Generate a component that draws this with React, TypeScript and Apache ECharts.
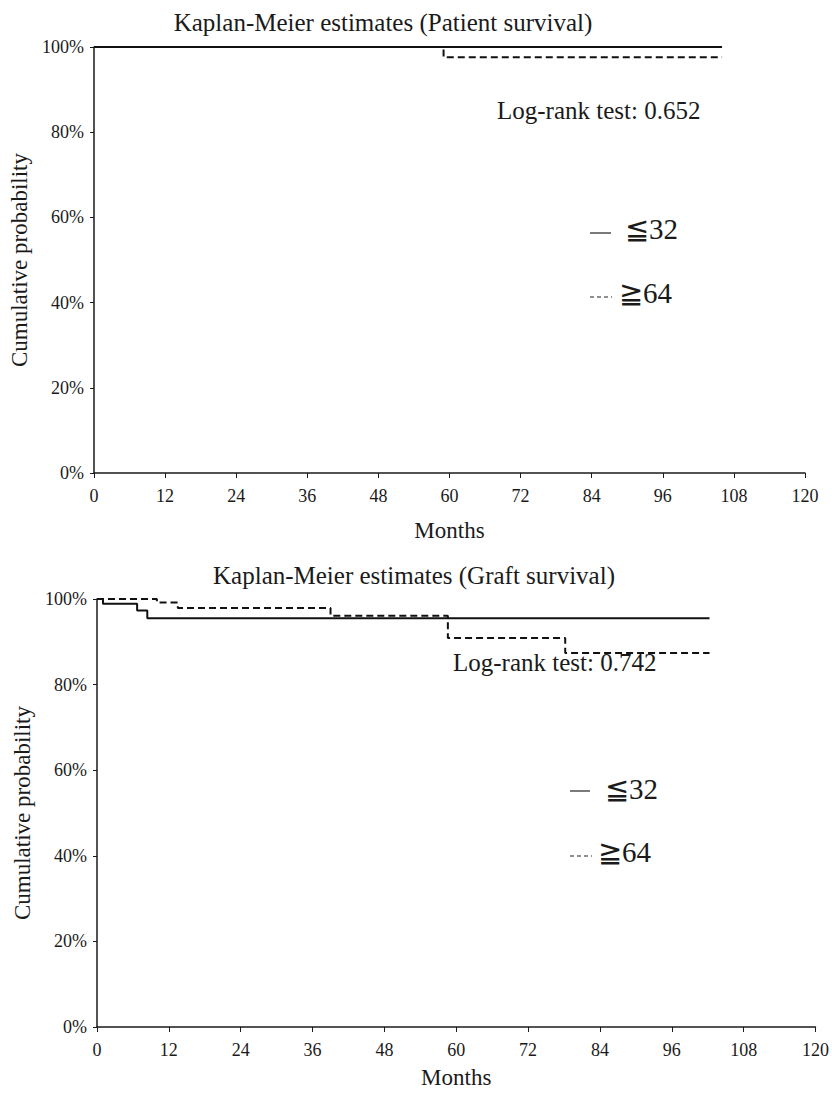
import React, { useEffect, useRef } from "react";
import * as echarts from "echarts";

const xTicks = [0, 12, 24, 36, 48, 60, 72, 84, 96, 108, 120];
const yTicks = [0, 20, 40, 60, 80, 100];
const groupNames = ["≦32", "≧64"];

// Patient survival (months, % surviving)
const patientLow: [number, number][] = [[0, 100], [106, 100]];
const patientHigh: [number, number][] = [[0, 100], [59, 97.6], [106, 97.6]];

// Graft survival
const graftLow: [number, number][] = [[0, 100], [1, 98.9], [6.7, 97.3], [8.4, 95.5], [102.3, 95.5]];
const graftHigh: [number, number][] = [[0, 100], [10, 99.2], [13.5, 97.9], [39, 96.1], [58.6, 90.9], [78.2, 87.4], [102.3, 87.4]];

const titles = ["Kaplan-Meier estimates (Patient survival)", "Kaplan-Meier estimates (Graft survival)"];
const logRank = ["Log-rank test: 0.652", "Log-rank test: 0.742"];

const FONT = "Liberation Serif";
const TXT = "#1a1a1a";

export default function App() {
  const ref = useRef<HTMLDivElement>(null);
  useEffect(() => {
    if (!ref.current) return;
    const chart = echarts.init(ref.current, null, { renderer: "svg" });
    const grids = [
      { left: 94, right: 27, top: 47, height: 426 },
      { left: 97, right: 12, top: 599, height: 428 },
    ];
    const xAxis = grids.map((_, i) => ({
      type: "value",
      gridIndex: i,
      min: xTicks[0],
      max: xTicks[xTicks.length - 1],
      interval: 12,
      name: "Months",
      nameLocation: "middle",
      nameGap: i === 0 ? 46 : 39,
      nameTextStyle: { fontFamily: FONT, fontSize: 23, color: TXT },
      axisLine: { show: true, lineStyle: { color: TXT, width: 1.5 } },
      axisTick: { show: true, length: 5, lineStyle: { color: TXT } },
      axisLabel: { fontFamily: FONT, fontSize: 18, color: TXT, margin: 14 },
      splitLine: { show: false },
    }));
    const yAxis = grids.map((_, i) => ({
      type: "value",
      gridIndex: i,
      min: yTicks[0],
      max: yTicks[yTicks.length - 1],
      interval: 20,
      offset: 4,
      name: "Cumulative probability",
      nameLocation: "middle",
      nameGap: i === 0 ? 58 : 59,
      nameTextStyle: { fontFamily: FONT, fontSize: 23, color: TXT },
      axisLine: { show: true, lineStyle: { color: TXT, width: 1.5 } },
      axisTick: { show: true, length: 4, lineStyle: { color: TXT } },
      axisLabel: { fontFamily: FONT, fontSize: 18, color: TXT, margin: 6, formatter: "{value}%" },
      splitLine: { show: false },
    }));
    const mk = (name: string, data: [number, number][], idx: number, dashed: boolean) => ({
      type: "line",
      name,
      xAxisIndex: idx,
      yAxisIndex: idx,
      step: "end",
      data,
      showSymbol: false,
      symbol: "none",
      lineStyle: { color: "#111", width: 2, type: dashed ? [7, 4] : "solid" },
      itemStyle: { color: "#111" },
    });
    // legend rows: [lineX1, lineX2, lineY, textX, textY]
    const legendRows = [
      [[590, 611, 233, 625, 229], [590, 612, 297, 619, 293]],
      [[570, 590, 791, 605, 789], [570, 592, 856, 598, 852]],
    ];
    const legendGraphics: any[] = [];
    legendRows.forEach((rows) => {
      rows.forEach((r, j) => {
        legendGraphics.push({
          type: "line",
          shape: { x1: r[0], y1: r[2], x2: r[1], y2: r[2] },
          style: { stroke: "#222", lineWidth: 1.2, lineDash: j === 1 ? [4, 3] : null },
        });
        legendGraphics.push({
          type: "text",
          x: r[3],
          y: r[4],
          style: {
            text: groupNames[j],
            fontFamily: FONT,
            fontSize: 29,
            fill: TXT,
            textAlign: "left",
            textVerticalAlign: "middle",
          },
        });
      });
    });
    chart.setOption({
      animation: false,
      title: titles.map((t, i) => ({
        text: t,
        left: i === 0 ? 378 : 409,
        top: i === 0 ? 5 : 558,
        textAlign: "center",
        textStyle: { fontFamily: FONT, fontSize: 25, fontWeight: "normal", color: TXT },
      })),
      grid: grids,
      xAxis,
      yAxis,
      series: [
        mk(groupNames[0], patientLow, 0, false),
        mk(groupNames[1], patientHigh, 0, true),
        mk(groupNames[0], graftLow, 1, false),
        mk(groupNames[1], graftHigh, 1, true),
      ],
      graphic: [
        ...logRank.map((t, i) => ({
          type: "text",
          x: i === 0 ? 497 : 453,
          y: i === 0 ? 110 : 662,
          style: {
            text: t,
            fontFamily: FONT,
            fontSize: 25,
            fill: TXT,
            textAlign: "left",
            textVerticalAlign: "middle",
          },
        })),
        ...legendGraphics,
      ],
    });
    return () => chart.dispose();
  }, []);
  return (
    <div
      ref={ref}
      style={{ position: "absolute", left: 0, top: 0, width: 832, height: 1096, background: "#fff" }}
    />
  );
}
